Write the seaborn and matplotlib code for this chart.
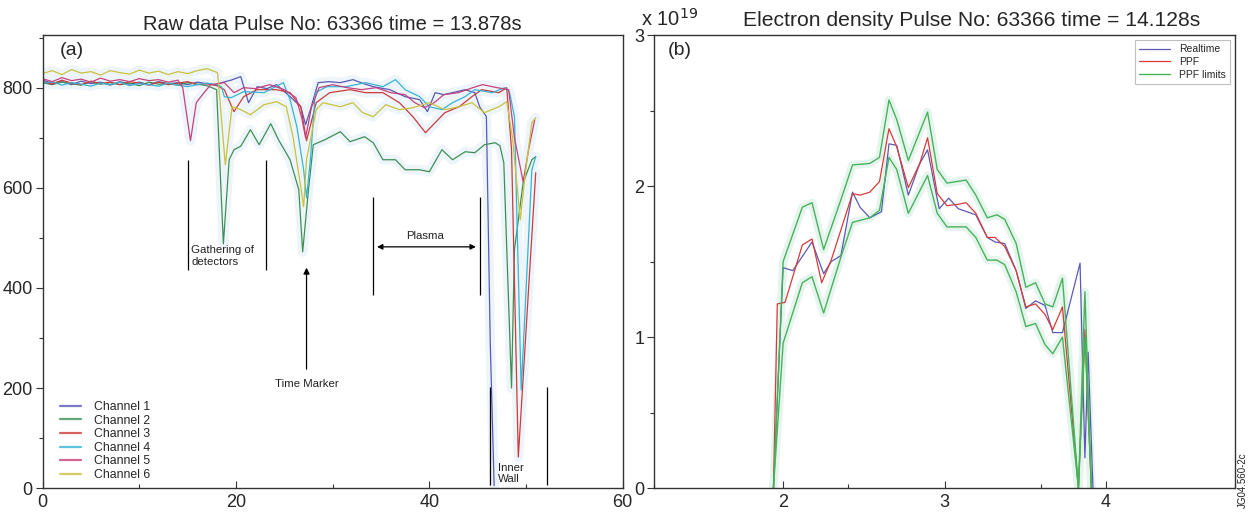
import matplotlib
matplotlib.use('Agg')
import matplotlib.pyplot as plt
import seaborn as sns
from matplotlib.ticker import MultipleLocator

# ---------------- data: panel (a) raw channels ----------------
ch1_x = [0, 1, 2, 3, 4, 5, 6, 7, 8, 9, 10, 11, 12, 13, 14, 15, 16, 17, 18, 18.5, 19.5, 20.5, 21.0, 21.3,
         22.2, 23.2, 24.2, 25.6, 26.7, 27.2, 27.7, 28.5, 29.6, 30.8, 32.1, 33.2, 34.2, 35.9, 37.5, 39.0,
         39.8, 40.6, 41.5, 42.4, 43.7, 44.7, 45.2, 45.9, 46.3, 46.7]
ch1_y = [815, 809, 812, 806, 813, 808, 811, 805, 812, 807, 811, 806, 812, 808, 810, 806, 811, 808, 805, 810,
         815, 822, 790, 770, 802, 798, 806, 782, 762, 726, 756, 810, 812, 810, 816, 808, 802, 796, 782, 776,
         752, 790, 786, 790, 796, 790, 762, 742, 290, 5]

ch2_x = [0, 1, 2, 3, 4, 5, 6, 7, 8, 9, 10, 11, 12, 13, 14, 15, 16, 17, 18.0, 18.7, 19.3, 19.8, 20.5, 21.5,
         22.4, 23.6, 24.4, 25.6, 26.5, 26.9, 27.5, 28.0, 29.2, 30.8, 31.8, 33.3, 34.2, 35.2, 36.5, 37.5,
         39.0, 40.0, 41.3, 42.4, 43.7, 44.7, 45.7, 46.8, 47.3, 47.7, 48.5, 48.8, 49.7, 50.6, 51.0]
ch2_y = [810, 806, 811, 808, 805, 812, 807, 810, 806, 809, 804, 811, 807, 808, 805, 810, 807, 804, 796, 488,
         656, 676, 683, 716, 686, 728, 696, 656, 596, 472, 596, 686, 696, 712, 692, 702, 690, 656, 656, 636,
         636, 632, 676, 656, 672, 670, 686, 690, 684, 650, 200, 476, 610, 656, 662]

ch3_x = [0, 1, 2, 3, 4, 5, 6, 7, 8, 9, 10, 11, 12, 13, 14, 15, 16, 17, 18, 18.8, 19.8, 20.8, 22.2, 24.2,
         25.6, 26.7, 27.3, 28.3, 29.7, 31.8, 33.4, 35.2, 36.9, 38.3, 39.6, 40.6, 41.6, 43.1, 44.4, 45.4,
         47.2, 48.0, 48.5, 49.2, 50.3, 51.0]
ch3_y = [812, 807, 815, 809, 806, 813, 808, 811, 806, 812, 809, 805, 811, 806, 809, 812, 806, 808, 804, 796,
         752, 782, 796, 796, 790, 762, 694, 770, 790, 796, 790, 790, 770, 742, 710, 730, 750, 762, 782, 796,
         790, 800, 676, 62, 410, 630]

ch4_x = [0, 1, 2, 3, 4, 5, 6, 7, 8, 9, 10, 11, 12, 13, 14, 15, 16, 17, 18, 18.5, 18.8, 19.5, 20.8, 22.9,
         24.9, 25.6, 26.3, 27.0, 27.3, 27.7, 28.2, 29.4, 31.4, 33.4, 35.2, 36.5, 37.5, 39.0, 40.0, 41.3,
         42.4, 43.7, 44.7, 46.5, 47.8, 48.3, 48.8, 49.5, 50.2, 50.6, 51.0]
ch4_y = [808, 812, 805, 810, 807, 803, 809, 806, 811, 804, 808, 806, 803, 809, 805, 802, 806, 809, 806, 802,
         782, 780, 792, 790, 810, 776, 722, 636, 580, 656, 790, 802, 802, 810, 802, 816, 796, 782, 762, 756,
         770, 782, 796, 790, 800, 790, 742, 196, 476, 636, 662]

ch5_x = [0, 1, 2, 3, 4, 5, 6, 7, 8, 9, 10, 11, 12, 13, 14, 14.5, 15.3, 15.9, 16.7, 17.4, 18.8, 19.8, 20.8,
         22.0, 23.5, 25.0, 26.2, 26.8, 27.2, 27.8, 28.6, 30.0, 31.5, 33.0, 34.5, 36.0, 37.5, 38.5, 39.5,
         40.5, 41.5, 43.0, 44.5, 45.5, 47.0, 48.2, 48.8, 49.7, 50.3, 50.9]
ch5_y = [818, 812, 820, 814, 817, 811, 819, 813, 816, 812, 818, 814, 816, 811, 815, 800, 694, 770, 790, 806,
         810, 790, 800, 798, 806, 796, 780, 740, 700, 760, 800, 806, 800, 796, 800, 790, 786, 770, 760,
         770, 786, 790, 800, 806, 800, 796, 700, 612, 680, 736]

ch6_x = [0, 1, 2, 3, 4, 5, 6, 7, 8, 9, 10, 11, 12, 13, 14, 15, 16, 17, 18.1, 18.9, 19.6, 20.5, 21.5, 22.9,
         24.2, 25.2, 25.9, 26.7, 27.0, 27.3, 28.3, 29.0, 30.8, 32.1, 33.1, 34.2, 35.5, 36.9, 38.3, 40.0,
         41.6, 43.1, 44.4, 45.7, 47.2, 48.0, 48.6, 49.4, 50.0, 50.6, 51.0]
ch6_y = [828, 834, 826, 836, 829, 832, 825, 834, 830, 827, 835, 829, 833, 826, 832, 828, 834, 838, 830, 646,
         762, 756, 746, 766, 772, 762, 702, 602, 562, 656, 756, 770, 762, 770, 750, 742, 766, 756, 760, 770,
         756, 762, 770, 750, 762, 772, 700, 536, 640, 730, 740]

channel_names = ["Channel 1", "Channel 2", "Channel 3", "Channel 4", "Channel 5", "Channel 6"]
channel_colors = ["#5a5ab4", "#3f8f55", "#cf3a3a", "#35b4d6", "#c8417a", "#c9c23a"]

# ---------------- data: panel (b) density profile ----------------
rt_x = [1.94, 2.00, 2.06, 2.179, 2.251, 2.298, 2.358, 2.43, 2.477, 2.537, 2.609, 2.656, 2.704, 2.776,
        2.847, 2.895, 2.967, 3.026, 3.086, 3.194, 3.265, 3.313, 3.373, 3.444, 3.504, 3.564, 3.623, 3.671,
        3.731, 3.84, 3.87, 3.89, 3.92]
rt_y = [0.0, 1.46, 1.44, 1.63, 1.42, 1.50, 1.54, 1.96, 1.86, 1.79, 1.83, 2.28, 2.27, 1.94, 2.15, 2.24,
        1.85, 1.92, 1.85, 1.81, 1.66, 1.63, 1.62, 1.44, 1.19, 1.24, 1.21, 1.03, 1.03, 1.49, 0.2, 0.9, 0.0]

ppf_x = [1.94, 1.964, 2.012, 2.119, 2.179, 2.239, 2.298, 2.43, 2.477, 2.537, 2.597, 2.656, 2.704, 2.776,
         2.847, 2.895, 2.955, 3.015, 3.086, 3.134, 3.194, 3.265, 3.313, 3.373, 3.444, 3.504, 3.564, 3.623,
         3.671, 3.731, 3.83, 3.87, 3.91]
ppf_y = [0.0, 1.22, 1.23, 1.61, 1.65, 1.36, 1.51, 1.95, 1.94, 1.96, 2.03, 2.38, 2.26, 1.99, 2.15, 2.32,
         1.95, 1.87, 1.88, 1.89, 1.82, 1.66, 1.66, 1.60, 1.44, 1.20, 1.22, 1.15, 1.05, 1.20, 0.0, 1.05, 0.0]

lim_x = [1.94, 2.00, 2.119, 2.179, 2.251, 2.358, 2.43, 2.537, 2.597, 2.656, 2.704, 2.776, 2.895, 2.955,
         3.015, 3.134, 3.194, 3.265, 3.325, 3.373, 3.444, 3.504, 3.564, 3.623, 3.671, 3.731, 3.83, 3.87, 3.91]
up_y = [0.0, 1.50, 1.86, 1.89, 1.58, 1.91, 2.14, 2.15, 2.19, 2.57, 2.44, 2.17, 2.49, 2.11, 2.02, 2.04,
        1.94, 1.79, 1.81, 1.78, 1.62, 1.33, 1.36, 1.22, 1.20, 1.39, 0.0, 1.30, 0.0]
lo_y = [0.0, 0.96, 1.36, 1.40, 1.16, 1.53, 1.76, 1.79, 1.84, 2.19, 2.11, 1.82, 2.07, 1.82, 1.73, 1.73,
        1.66, 1.51, 1.51, 1.48, 1.30, 1.07, 1.09, 0.95, 0.89, 1.00, 0.0, 1.00, 0.0]

# ---------------- figure ----------------
sns.set_theme(style="white")
plt.rcParams['font.family'] = ['Liberation Sans', 'DejaVu Sans']

fig = plt.figure(figsize=(12.51, 5.16), dpi=100)
axA = fig.add_axes([0.034, 0.054, 0.4638, 0.878])
axB = fig.add_axes([0.5228, 0.054, 0.4644, 0.878])

halo = "#edf5fb"
xs = [ch1_x, ch2_x, ch3_x, ch4_x, ch5_x, ch6_x]
ys = [ch1_y, ch2_y, ch3_y, ch4_y, ch5_y, ch6_y]
for x, y in zip(xs, ys):
    sns.lineplot(x=x, y=y, ax=axA, color=halo, lw=7, estimator=None, sort=False, legend=False)
for x, y, c, n in zip(xs, ys, channel_colors, channel_names):
    sns.lineplot(x=x, y=y, ax=axA, color=c, lw=0.9, estimator=None, sort=False, label=n)

axA.set_xlim(0, 60)
axA.set_ylim(0, 905)
axA.xaxis.set_major_locator(MultipleLocator(20))
axA.xaxis.set_minor_locator(MultipleLocator(10))
axA.yaxis.set_major_locator(MultipleLocator(200))
axA.yaxis.set_minor_locator(MultipleLocator(100))

# annotations panel (a)
ann = dict(color="black", lw=0.9)
axA.vlines([15.0, 23.1], 436, 656, **ann)
axA.text(15.4, 463, "Gathering of\ndetectors", fontsize=8.2, ha="left", va="center", color="#222222",
         linespacing=1.25)
axA.annotate("", xy=(27.3, 446), xytext=(27.3, 232),
             arrowprops=dict(arrowstyle="-|>", color="black", lw=0.9, mutation_scale=9))
axA.text(27.3, 208, "Time Marker", fontsize=8.2, ha="center", va="center", color="#222222")
axA.vlines([34.2, 45.2], 386, 582, **ann)
axA.annotate("", xy=(34.3, 482), xytext=(45.1, 482),
             arrowprops=dict(arrowstyle="<|-|>", color="black", lw=0.9, mutation_scale=8))
axA.text(39.6, 503, "Plasma", fontsize=8.2, ha="center", va="center", color="#222222")
axA.vlines([46.3, 52.2], 6, 202, **ann)
axA.text(47.1, 30, "Inner\nWall", fontsize=8.2, ha="left", va="center", color="#222222", linespacing=1.1)
axA.text(0.03, 0.985, "(a)", transform=axA.transAxes, fontsize=14, ha="left", va="top")
axA.set_title("Raw data Pulse No: 63366 time = 13.878s", fontsize=14.5, pad=4)

legA = axA.legend(loc="lower left", bbox_to_anchor=(0.013, -0.006), fontsize=8.8, frameon=False,
                  handlelength=1.7, labelspacing=0.13, handletextpad=1.1, borderpad=0.3)
for h in legA.get_lines():
    h.set_linewidth(1.6)
    h.set_alpha(0.8)

# panel (b)
green = "#46b35a"
for y in (up_y, lo_y):
    sns.lineplot(x=lim_x, y=y, ax=axB, color="#e6f4ee", lw=6, estimator=None, sort=False, legend=False)
sns.lineplot(x=rt_x, y=rt_y, ax=axB, color="#5a5ab4", lw=0.9, estimator=None, sort=False, label="Realtime")
sns.lineplot(x=ppf_x, y=ppf_y, ax=axB, color="#d83a3a", lw=0.9, estimator=None, sort=False, label="PPF")
sns.lineplot(x=lim_x, y=up_y, ax=axB, color=green, lw=1.0, estimator=None, sort=False, label="PPF limits")
sns.lineplot(x=lim_x, y=lo_y, ax=axB, color=green, lw=1.0, estimator=None, sort=False, legend=False)

axB.set_xlim(1.2, 4.8)
axB.set_ylim(0, 3)
axB.xaxis.set_major_locator(MultipleLocator(1))
axB.xaxis.set_minor_locator(MultipleLocator(1.2))
axB.yaxis.set_major_locator(MultipleLocator(1))
axB.yaxis.set_minor_locator(MultipleLocator(0.5))
axB.text(0.024, 0.985, "(b)", transform=axB.transAxes, fontsize=14, ha="left", va="top")
axB.text(0.547, 1.012, "Electron density Pulse No: 63366 time = 14.128s", transform=axB.transAxes,
         fontsize=15.2, ha="center", va="bottom")
axB.text(-0.022, 1.012, r"x 10$^{19}$", transform=axB.transAxes, fontsize=14.5, ha="left", va="bottom")
legB = axB.legend(loc="upper right", fontsize=7.5, frameon=True, fancybox=False, edgecolor="#b0b0b0",
                  handlelength=3.0, labelspacing=0.25, borderpad=0.4, borderaxespad=0.5)
legB.get_frame().set_linewidth(0.8)

for ax in (axA, axB):
    for s in ax.spines.values():
        s.set_color("#333333")
        s.set_linewidth(1.0)
    ax.set_xlabel("")
    ax.set_ylabel("")
    ax.tick_params(axis="x", which="both", direction="in", labelsize=13, color="#333333", pad=4,
                   bottom=True)
    ax.tick_params(axis="x", which="major", length=5, width=0.8)
    ax.tick_params(axis="x", which="minor", length=3, width=0.8)
    ax.tick_params(axis="y", which="both", direction="out", labelsize=13, color="#333333", pad=2,
                   left=True)
    ax.tick_params(axis="y", which="major", length=5, width=0.8)
    ax.tick_params(axis="y", which="minor", length=3, width=0.8)

fig.text(0.9935, 0.016, "JG04.560-2c", rotation=90, fontsize=7, ha="center", va="bottom", color="#222222")

fig.savefig("out.png", dpi=100)
